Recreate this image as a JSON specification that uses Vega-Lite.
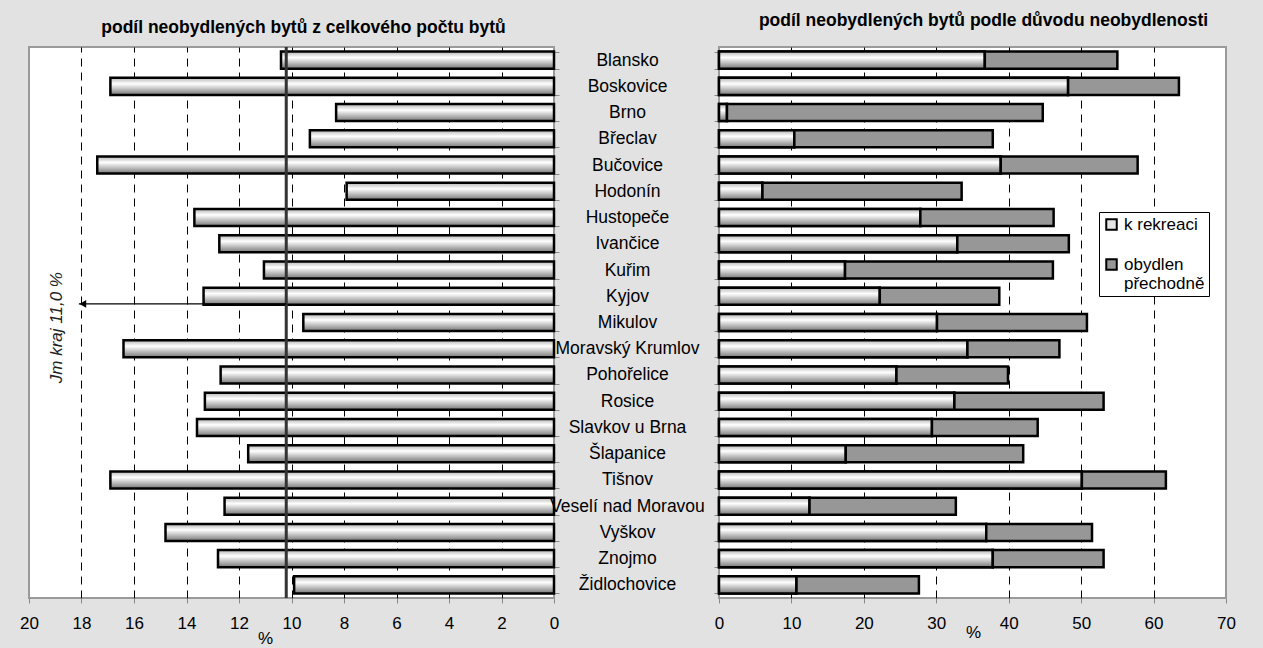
{
  "$schema": "https://vega.github.io/schema/vega-lite/v6.json",
  "background": "#e2e2e2",
  "padding": {"left": 18, "top": 10, "right": 29, "bottom": 5},
  "config": {
    "font": "Liberation Sans",
    "view": {"stroke": "#9a9a9a", "strokeWidth": 2, "fill": "white"},
    "axis": {"labelFontSize": 17, "labelColor": "black", "tickColor": "#8a8a8a", "domain": false, "titleFontSize": 17, "titleFontWeight": "normal", "titleColor": "black", "labelFlush": false},
    "title": {"fontSize": 17.5, "fontWeight": "bold", "color": "black", "offset": 9}
  },
  "data": {"values": [
    {"okres": "Blansko", "podil": 10.4, "rekreace": 36.7, "celkem": 55.0},
    {"okres": "Boskovice", "podil": 16.9, "rekreace": 48.2, "celkem": 63.5},
    {"okres": "Brno", "podil": 8.3, "rekreace": 1.1, "celkem": 44.7},
    {"okres": "Břeclav", "podil": 9.3, "rekreace": 10.4, "celkem": 37.8},
    {"okres": "Bučovice", "podil": 17.4, "rekreace": 38.9, "celkem": 57.8},
    {"okres": "Hodonín", "podil": 7.9, "rekreace": 6.0, "celkem": 33.5},
    {"okres": "Hustopeče", "podil": 13.7, "rekreace": 27.8, "celkem": 46.2},
    {"okres": "Ivančice", "podil": 12.75, "rekreace": 32.9, "celkem": 48.3},
    {"okres": "Kuřim", "podil": 11.05, "rekreace": 17.4, "celkem": 46.1},
    {"okres": "Kyjov", "podil": 13.35, "rekreace": 22.2, "celkem": 38.7},
    {"okres": "Mikulov", "podil": 9.55, "rekreace": 30.1, "celkem": 50.8},
    {"okres": "Moravský Krumlov", "podil": 16.4, "rekreace": 34.3, "celkem": 47.0},
    {"okres": "Pohořelice", "podil": 12.7, "rekreace": 24.5, "celkem": 39.9},
    {"okres": "Rosice", "podil": 13.3, "rekreace": 32.5, "celkem": 53.1},
    {"okres": "Slavkov u Brna", "podil": 13.6, "rekreace": 29.4, "celkem": 44.0},
    {"okres": "Šlapanice", "podil": 11.65, "rekreace": 17.5, "celkem": 42.0},
    {"okres": "Tišnov", "podil": 16.9, "rekreace": 50.1, "celkem": 61.7},
    {"okres": "Veselí nad Moravou", "podil": 12.55, "rekreace": 12.5, "celkem": 32.7},
    {"okres": "Vyškov", "podil": 14.8, "rekreace": 36.9, "celkem": 51.5},
    {"okres": "Znojmo", "podil": 12.8, "rekreace": 37.8, "celkem": 53.1},
    {"okres": "Židlochovice", "podil": 9.9, "rekreace": 10.7, "celkem": 27.6}
  ]},
  "spacing": 165,
  "bounds": "flush",
  "hconcat": [
    {
      "width": 525,
      "height": 551,
      "title": {"text": "podíl neobydlených bytů z celkového počtu bytů", "dx": 12},
      "layer": [
        {
          "mark": {"type": "bar", "stroke": "black", "strokeWidth": 2.5,
            "fill": {"gradient": "linear", "x1": 0, "y1": 0, "x2": 0, "y2": 1,
              "stops": [{"offset": 0, "color": "#b5b5b5"}, {"offset": 0.35, "color": "#ffffff"}, {"offset": 1, "color": "#777777"}]}},
          "encoding": {
            "y": {"field": "okres", "type": "nominal", "sort": null,
              "scale": {"domain": ["Blansko","Boskovice","Brno","Břeclav","Bučovice","Hodonín","Hustopeče","Ivančice","Kuřim","Kyjov","Mikulov","Moravský Krumlov","Pohořelice","Rosice","Slavkov u Brna","Šlapanice","Tišnov","Veselí nad Moravou","Vyškov","Znojmo","Židlochovice"], "paddingInner": 0.35, "paddingOuter": 0.175},
              "axis": {"orient": "right", "labels": false, "ticks": true, "tickBand": "extent", "tickSize": 5, "title": null}},
            "x": {"field": "podil", "type": "quantitative",
              "scale": {"domain": [0, 20], "reverse": true, "nice": false},
              "axis": {"values": [0,2,4,6,8,10,12,14,16,18,20], "grid": true, "gridDash": [8, 6], "gridColor": "black", "gridWidth": 1,
                "gridOpacity": {"condition": {"test": "datum.value == 0 || datum.value == 20", "value": 0}, "value": 1},
                "tickSize": 5, "labelPadding": 12, "title": "%", "titleX": 236, "titleY": 40, "titleAlign": "center", "titleBaseline": "middle"}}
          }
        },
        {
          "data": {"values": [{"hodnota": 10.2}]},
          "mark": {"type": "rule", "color": "#333333", "strokeWidth": 3},
          "encoding": {"x": {"field": "hodnota", "type": "quantitative"}}
        },
        {
          "data": {"values": [{"okres": "Kyjov", "od": 10.2, "do": 18.1}]},
          "mark": {"type": "rule", "color": "black", "strokeWidth": 1.2},
          "encoding": {
            "y": {"field": "okres", "type": "nominal", "bandPosition": 0.95},
            "x": {"field": "od", "type": "quantitative"},
            "x2": {"field": "do"}
          }
        },
        {
          "data": {"values": [{"okres": "Kyjov", "do": 17.95}]},
          "mark": {"type": "point", "shape": "triangle-left", "filled": true, "color": "black", "size": 60, "opacity": 1},
          "encoding": {
            "y": {"field": "okres", "type": "nominal", "bandPosition": 0.95},
            "x": {"field": "do", "type": "quantitative"}
          }
        },
        {
          "data": {"values": [{"okres": "Mikulov", "x": 18.95, "popis": "Jm kraj 11,0 %"}]},
          "mark": {"type": "text", "angle": 270, "fontStyle": "italic", "fontSize": 17, "color": "#222222", "align": "center", "baseline": "middle"},
          "encoding": {
            "y": {"field": "okres", "type": "nominal", "bandPosition": 0.8},
            "x": {"field": "x", "type": "quantitative"},
            "text": {"field": "popis"}
          }
        }
      ]
    },
    {
      "width": 507,
      "height": 551,
      "title": {"text": "podíl neobydlených bytů podle důvodu neobydlenosti", "dx": 11},
      "encoding": {
        "y": {"field": "okres", "type": "nominal", "sort": null,
          "scale": {"domain": ["Blansko","Boskovice","Brno","Břeclav","Bučovice","Hodonín","Hustopeče","Ivančice","Kuřim","Kyjov","Mikulov","Moravský Krumlov","Pohořelice","Rosice","Slavkov u Brna","Šlapanice","Tišnov","Veselí nad Moravou","Vyškov","Znojmo","Židlochovice"], "paddingInner": 0.35, "paddingOuter": 0.175},
          "axis": {"orient": "left", "labels": true, "labelFontSize": 17.5, "labelAlign": "center", "labelBaseline": "middle", "labelPadding": 87, "tickBand": "extent", "tickSize": 5, "title": null}}
      },
      "layer": [
        {
          "mark": {"type": "bar", "stroke": "black", "strokeWidth": 2.5},
          "encoding": {
            "x": {"field": "rekreace", "type": "quantitative",
              "scale": {"domain": [0, 70], "nice": false},
              "axis": {"values": [0,10,20,30,40,50,60,70], "grid": true, "gridDash": [8, 6], "gridColor": "black", "gridWidth": 1,
                "gridOpacity": {"condition": {"test": "datum.value == 0 || datum.value == 70", "value": 0}, "value": 1},
                "tickSize": 5, "labelPadding": 12, "title": "%", "titleX": 254, "titleY": 34, "titleAlign": "center", "titleBaseline": "middle"}},
            "color": {"datum": "k rekreaci",
              "scale": {"domain": ["k rekreaci", "obydlen přechodně"], "range": ["#e6e6e6", "#979797"]},
              "legend": {"orient": "none", "legendX": 1070, "legendY": 165, "title": null, "fillColor": "white", "strokeColor": "black", "padding": 4,
                "symbolType": "square", "symbolSize": 110, "symbolStrokeColor": "black", "symbolStrokeWidth": 2, "labelOffset": 4,
                "labelFontSize": 17, "labelColor": "black", "rowPadding": 21, "labelBaseline": "middle",
                "labelExpr": "datum.label == 'obydlen přechodně' ? ['obydlen', 'přechodně'] : datum.label"}}
          }
        },
        {
          "mark": {"type": "bar", "stroke": "black", "strokeWidth": 2.5,
            "fill": {"gradient": "linear", "x1": 0, "y1": 0, "x2": 0, "y2": 1,
              "stops": [{"offset": 0, "color": "#b5b5b5"}, {"offset": 0.35, "color": "#ffffff"}, {"offset": 1, "color": "#777777"}]}},
          "encoding": {
            "x": {"field": "rekreace", "type": "quantitative"}
          }
        },
        {
          "mark": {"type": "bar", "stroke": "black", "strokeWidth": 2.5},
          "encoding": {
            "x": {"field": "rekreace", "type": "quantitative"},
            "x2": {"field": "celkem"},
            "color": {"datum": "obydlen přechodně"}
          }
        }
      ]
    }
  ]
}
